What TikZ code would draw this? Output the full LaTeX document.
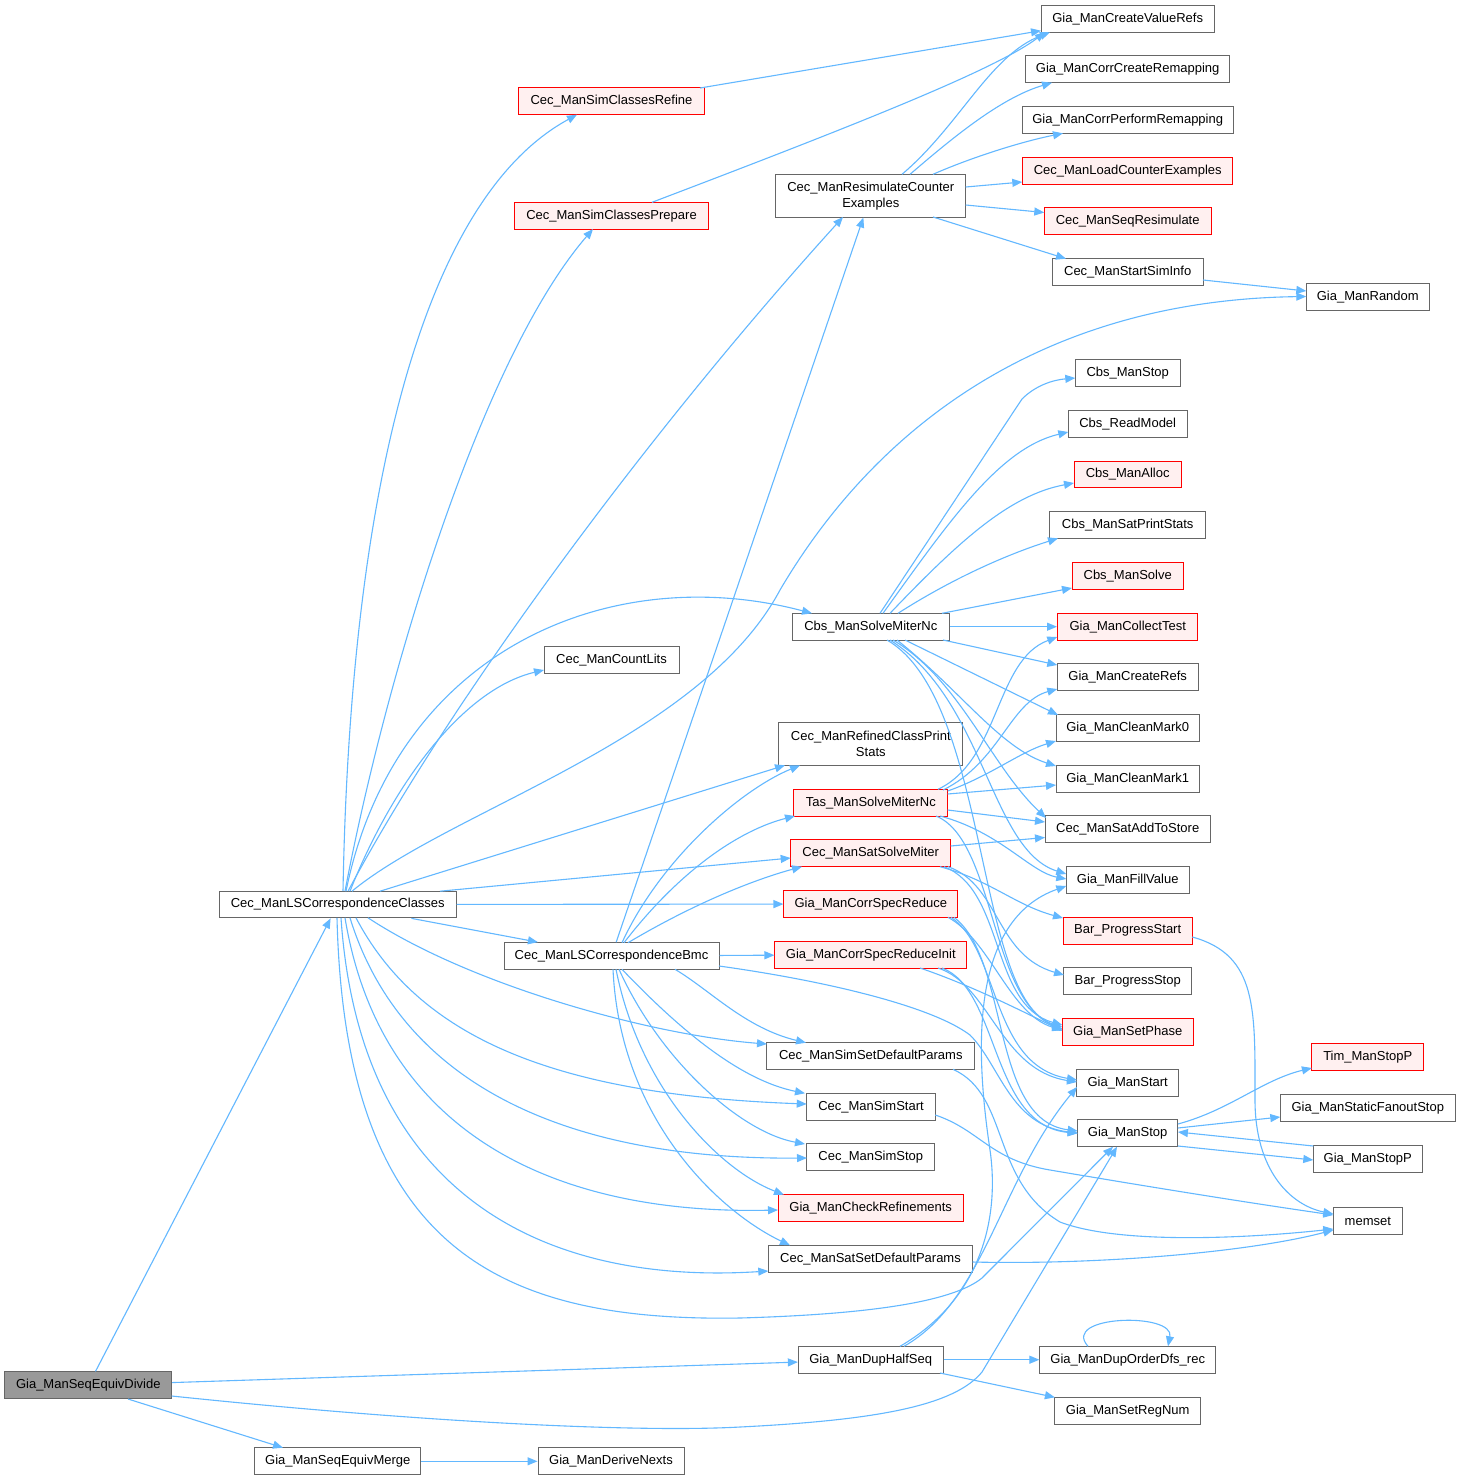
\documentclass[tikz,border=0pt]{standalone}
\usepackage{fontspec}
\setmainfont{Liberation Sans}
\usetikzlibrary{arrows.meta}
\definecolor{eb}{HTML}{63B8FF}
\definecolor{bgray}{HTML}{666666}
\definecolor{rborder}{HTML}{FF0000}
\definecolor{rfill}{HTML}{FFF0F0}
\definecolor{rootf}{HTML}{999999}
\begin{document}
\begin{tikzpicture}[x=1pt,y=-1pt,
 nb/.style={draw=bgray, fill=white, line width=1pt, inner sep=0pt, minimum height=26.7pt, font=\fontsize{13}{16}\selectfont, align=center},
 nr/.style={nb, draw=rborder, fill=rfill},
 nroot/.style={nb, fill=rootf},
 ed/.style={draw=eb, line width=1.1pt, -{Triangle[length=10pt,width=8pt]}}]
\fill[white] (0,0) rectangle (1461,1480);
\useasboundingbox (0,0) rectangle (1461,1480);
% column 1
\node[nroot, minimum width=166.7pt] (D) at (88.3,1385.3) {Gia\_ManSeqEquivDivide};
\node[nb, minimum width=165.7pt] (Mrg) at (337.8,1461.3) {Gia\_ManSeqEquivMerge};
\node[nb, minimum width=146pt] (Nexts) at (611,1461.3) {Gia\_ManDeriveNexts};
\node[nb, minimum width=236.4pt] (C) at (337.8,904.5) {Cec\_ManLSCorrespondenceClasses};
\node[nb, minimum width=215pt] (B) at (611.5,956) {Cec\_ManLSCorrespondenceBmc};
\node[nr, minimum width=186.4pt] (Refine) at (611.5,101.3) {Cec\_ManSimClassesRefine};
\node[nr, minimum width=193.6pt] (Prep) at (611.5,215.7) {Cec\_ManSimClassesPrepare};
\node[nb, minimum width=135pt] (Count) at (611.5,660) {Cec\_ManCountLits};
% column 2
\node[nb, minimum width=189.7pt, minimum height=42.7pt] (R) at (870.8,195.7) {Cec\_ManResimulateCounter\\Examples};
\node[nb, minimum width=157pt] (S) at (870.8,626.7) {Cbs\_ManSolveMiterNc};
\node[nb, minimum width=183.7pt, minimum height=42.7pt] (Stats) at (870.8,744) {Cec\_ManRefinedClassPrint\\Stats};
\node[nr, minimum width=153.7pt] (T) at (870.8,802.7) {Tas\_ManSolveMiterNc};
\node[nr, minimum width=160pt] (M) at (870.7,853.3) {Cec\_ManSatSolveMiter};
\node[nr, minimum width=173.7pt] (CSR) at (870.8,904) {Gia\_ManCorrSpecReduce};
\node[nr, minimum width=191.7pt] (CSRI) at (870.8,954.7) {Gia\_ManCorrSpecReduceInit};
\node[nb, minimum width=207.7pt] (SimSDP) at (870.8,1056) {Cec\_ManSimSetDefaultParams};
\node[nb, minimum width=128.6pt] (SimStart) at (871,1106.7) {Cec\_ManSimStart};
\node[nb, minimum width=127.7pt] (SimStop) at (870.8,1157.3) {Cec\_ManSimStop};
\node[nr, minimum width=185.3pt] (Check) at (870.7,1208) {Gia\_ManCheckRefinements};
\node[nb, minimum width=204.4pt] (SatSDP) at (870.5,1258.7) {Cec\_ManSatSetDefaultParams};
\node[nb, minimum width=144.7pt] (H) at (870.7,1359.7) {Gia\_ManDupHalfSeq};
% column 3
\node[nb, minimum width=173.3pt] (CVR) at (1127.7,18.7) {Gia\_ManCreateValueRefs};
\node[nb, minimum width=203.6pt] (CCR) at (1127.7,69.2) {Gia\_ManCorrCreateRemapping};
\node[nb, minimum width=211pt] (CPR) at (1127.7,120) {Gia\_ManCorrPerformRemapping};
\node[nr, minimum width=210.4pt] (LCE) at (1127.7,170.7) {Cec\_ManLoadCounterExamples};
\node[nr, minimum width=167pt] (SeqR) at (1127.7,221.3) {Cec\_ManSeqResimulate};
\node[nb, minimum width=150.7pt] (SSI) at (1127.7,271.8) {Cec\_ManStartSimInfo};
\node[nb, minimum width=104.7pt] (CbsStop) at (1127.7,373.3) {Cbs\_ManStop};
\node[nb, minimum width=118.7pt] (CbsRM) at (1127.7,424) {Cbs\_ReadModel};
\node[nr, minimum width=107.3pt] (CbsAlloc) at (1127.7,474.5) {Cbs\_ManAlloc};
\node[nb, minimum width=155.7pt] (CbsSPS) at (1127.7,525) {Cbs\_ManSatPrintStats};
\node[nr, minimum width=111.3pt] (CbsSolve) at (1127.7,576) {Cbs\_ManSolve};
\node[nr, minimum width=140.4pt] (Collect) at (1127.7,626.7) {Gia\_ManCollectTest};
\node[nb, minimum width=140.7pt] (CRefs) at (1127.7,677.3) {Gia\_ManCreateRefs};
\node[nb, minimum width=143.3pt] (CM0) at (1127.7,728) {Gia\_ManCleanMark0};
\node[nb, minimum width=143.3pt] (CM1) at (1127.7,778.7) {Gia\_ManCleanMark1};
\node[nb, minimum width=165.3pt] (Store) at (1127.7,829.3) {Cec\_ManSatAddToStore};
\node[nb, minimum width=122.7pt] (Fill) at (1127.7,880) {Gia\_ManFillValue};
\node[nr, minimum width=129.3pt] (BarS) at (1127.7,930.7) {Bar\_ProgressStart};
\node[nb, minimum width=127.7pt] (BarE) at (1127.7,981.3) {Bar\_ProgressStop};
\node[nr, minimum width=131pt] (Phase) at (1127.7,1032) {Gia\_ManSetPhase};
\node[nb, minimum width=101.7pt] (GStart) at (1127.7,1082.7) {Gia\_ManStart};
\node[nb, minimum width=100.3pt] (GStop) at (1127.7,1133.3) {Gia\_ManStop};
\node[nb, minimum width=175.6pt] (Dfs) at (1127.7,1359.7) {Gia\_ManDupOrderDfs\_rec};
\node[nb, minimum width=145.6pt] (RegNum) at (1127.7,1410.7) {Gia\_ManSetRegNum};
% column 4
\node[nb, minimum width=123pt] (Random) at (1367.8,297.3) {Gia\_ManRandom};
\node[nr, minimum width=111.7pt] (Tim) at (1367.8,1057.3) {Tim\_ManStopP};
\node[nb, minimum width=175pt] (SFS) at (1367.8,1108) {Gia\_ManStaticFanoutStop};
\node[nb, minimum width=109.4pt] (StopP) at (1367.8,1158.7) {Gia\_ManStopP};
\node[nb, minimum width=69pt] (memset) at (1367.8,1221) {memset};

% ---- edges from D
\draw[ed] (D) -- (C);
\draw[ed] (D) -- (H);
\draw[ed] ([shift={(39.7,13.7)}]D.center) -- ([shift={(-54.8,-13.6)}]Mrg.center);
\draw[ed] ([shift={(83.4,10.7)}]D.center) .. controls (450,1425) and (650,1432) .. (740,1427) .. controls (880,1420) and (955,1405) .. (982,1372) -- ([shift={(-10.7,13.4)}]GStop.center);
\draw[ed] (Mrg) -- (Nexts);
% ---- edges from C
\draw[ed] ([shift={(5.2,-13.3)}]C.center) .. controls (350,500) and (420,200) .. ([shift={(-34.5,13.4)}]Refine.center);
\draw[ed] ([shift={(7.2,-13.3)}]C.center) .. controls (385,680) and (480,360) .. ([shift={(-18.5,13.3)}]Prep.center);
\draw[ed] ([shift={(10.2,-13.3)}]C.center) .. controls (450,700) and (650,430) .. ([shift={(-27.8,21.3)}]R.center);
\draw[ed] ([shift={(14.2,-13.3)}]C.center) .. controls (450,810) and (700,740) .. (780,590) .. controls (880,420) and (1050,300) .. ([shift={(-61.5,-0.8)}]Random.center);
\draw[ed] ([shift={(8.2,-13.3)}]C.center) .. controls (395,650) and (610,560) .. ([shift={(-58.8,-13.4)}]S.center);
\draw[ed] ([shift={(12.2,-13.3)}]C.center) .. controls (390,790) and (460,690) .. ([shift={(-67.5,10)}]Count.center);
\draw[ed] ([shift={(42.2,-13.3)}]C.center) -- ([shift={(-85.8,21.3)}]Stats.center);
\draw[ed] ([shift={(102.2,-13.3)}]C.center) -- ([shift={(-80,4.7)}]M.center);
\draw[ed] (C) -- (CSR);
\draw[ed] (C) -- (B);
\draw[ed] ([shift={(30.2,13.3)}]C.center) .. controls (470,985) and (650,1035) .. ([shift={(-103.8,-12)}]SimSDP.center);
\draw[ed] ([shift={(18.2,13.3)}]C.center) .. controls (420,1040) and (560,1095) .. ([shift={(-64.3,-2.7)}]SimStart.center);
\draw[ed] ([shift={(12.2,13.3)}]C.center) .. controls (400,1080) and (560,1160) .. ([shift={(-63.8,0.7)}]SimStop.center);
\draw[ed] ([shift={(7.2,13.3)}]C.center) .. controls (380,1130) and (550,1215) .. ([shift={(-92.7,2)}]Check.center);
\draw[ed] ([shift={(3.2,13.3)}]C.center) .. controls (360,1200) and (550,1285) .. ([shift={(-102.2,12.3)}]SatSDP.center);
\draw[ed] ([shift={(-0.8,13.3)}]C.center) .. controls (345,1250) and (500,1322) .. (740,1318) .. controls (880,1314) and (955,1300) .. (982,1278) -- ([shift={(-14.7,13.4)}]GStop.center);
% ---- edges from B
\draw[ed] (B) -- (R);
\draw[ed] ([shift={(10.5,-13.3)}]B.center) .. controls (660,860) and (740,790) .. ([shift={(-70.8,21.3)}]Stats.center);
\draw[ed] ([shift={(12.5,-13.3)}]B.center) .. controls (680,870) and (740,830) .. ([shift={(-75.8,13.3)}]T.center);
\draw[ed] ([shift={(16.5,-13.3)}]B.center) .. controls (700,900) and (760,878) .. ([shift={(-68.7,13.4)}]M.center);
\draw[ed] (B) -- (CSRI);
\draw[ed] ([shift={(63.5,13.3)}]B.center) .. controls (710,990) and (745,1028) .. ([shift={(-64.8,-13.3)}]SimSDP.center);
\draw[ed] ([shift={(10.5,13.3)}]B.center) .. controls (680,1030) and (740,1080) .. ([shift={(-66,-13.4)}]SimStart.center);
\draw[ed] ([shift={(7.5,13.3)}]B.center) .. controls (660,1060) and (740,1132) .. ([shift={(-65.8,-13.3)}]SimStop.center);
\draw[ed] ([shift={(4.5,13.3)}]B.center) .. controls (640,1090) and (720,1170) .. ([shift={(-86.7,-13.3)}]Check.center);
\draw[ed] ([shift={(1.5,13.3)}]B.center) .. controls (620,1120) and (720,1212) .. ([shift={(-80.5,-13.4)}]SatSDP.center);
\draw[ed] ([shift={(107.5,10)}]B.center) .. controls (820,980) and (930,1005) .. (970,1035) .. controls (1000,1065) and (1010,1125) .. ([shift={(-50,-0.3)}]GStop.center);
% ---- edges from R
\draw[ed] ([shift={(31.2,-21.4)}]R.center) .. controls (960,125) and (990,55) .. ([shift={(-77.7,13.6)}]CVR.center);
\draw[ed] ([shift={(39.2,-21.4)}]R.center) .. controls (950,140) and (1000,98) .. ([shift={(-75.7,13.5)}]CCR.center);
\draw[ed] ([shift={(62.2,-21.4)}]R.center) .. controls (970,158) and (1020,142) .. ([shift={(-64.7,13.3)}]CPR.center);
\draw[ed] ([shift={(94.9,-8.7)}]R.center) -- ([shift={(-105.4,11.3)}]LCE.center);
\draw[ed] ([shift={(94.9,9.3)}]R.center) -- ([shift={(-83.4,-8.8)}]SeqR.center);
\draw[ed] ([shift={(62.2,21.3)}]R.center) -- ([shift={(-61.7,-13.1)}]SSI.center);
\draw[ed] ([shift={(75.3,8.2)}]SSI.center) -- ([shift={(-61.5,-6.3)}]Random.center);
\draw[ed] ([shift={(88.5,-13.3)}]Refine.center) -- ([shift={(-86.7,12)}]CVR.center);
\draw[ed] ([shift={(40.5,-13.4)}]Prep.center) .. controls (850,127) and (995,70) .. ([shift={(-82.7,13.6)}]CVR.center);
% ---- edges from S
\draw[ed] ([shift={(9.2,-13.4)}]S.center) -- (1022,399) .. controls (1035,386) and (1052,380) .. ([shift={(-52.4,4.7)}]CbsStop.center);
\draw[ed] ([shift={(12.2,-13.4)}]S.center) .. controls (950,520) and (1000,448) .. ([shift={(-59.4,8)}]CbsRM.center);
\draw[ed] ([shift={(19.2,-13.4)}]S.center) .. controls (960,540) and (1010,495) .. ([shift={(-53.7,8.5)}]CbsAlloc.center);
\draw[ed] ([shift={(27.2,-13.4)}]S.center) .. controls (950,580) and (1005,555) .. ([shift={(-69.7,13.3)}]CbsSPS.center);
\draw[ed] ([shift={(71.2,-13.4)}]S.center) -- ([shift={(-55.7,12)}]CbsSolve.center);
\draw[ed] (S) -- (Collect);
\draw[ed] ([shift={(72.2,13.3)}]S.center) -- ([shift={(-70.4,-12.3)}]CRefs.center);
\draw[ed] ([shift={(34.2,13.3)}]S.center) -- ([shift={(-69.7,-13)}]CM0.center);
\draw[ed] ([shift={(26.2,13.3)}]S.center) .. controls (960,690) and (1000,748) .. ([shift={(-71.7,-12.7)}]CM1.center);
\draw[ed] ([shift={(22.2,13.3)}]S.center) .. controls (960,680) and (990,765) .. ([shift={(-81.7,-11.3)}]Store.center);
\draw[ed] ([shift={(19.2,13.3)}]S.center) .. controls (985,700) and (990,850) .. ([shift={(-61.4,-6)}]Fill.center);
\draw[ed] ([shift={(16.2,13.3)}]S.center) .. controls (990,700) and (975,1000) .. ([shift={(-65.4,-5)}]Phase.center);
% ---- edges from T
\draw[ed] ([shift={(67.2,-13.4)}]T.center) .. controls (1000,760) and (995,660) .. ([shift={(-70.4,10.3)}]Collect.center);
\draw[ed] ([shift={(72.2,-12.7)}]T.center) .. controls (1000,762) and (1010,702) .. ([shift={(-70.4,11.7)}]CRefs.center);
\draw[ed] ([shift={(76.9,-11.7)}]T.center) .. controls (990,776) and (1020,752) .. ([shift={(-71.7,13)}]CM0.center);
\draw[ed] ([shift={(76.9,-8.7)}]T.center) -- ([shift={(-71.7,6.3)}]CM1.center);
\draw[ed] ([shift={(76.9,7.3)}]T.center) -- ([shift={(-82.7,-7.3)}]Store.center);
\draw[ed] ([shift={(69.2,13.3)}]T.center) .. controls (1000,832) and (1030,872) .. ([shift={(-61.4,-1)}]Fill.center);
\draw[ed] ([shift={(65.2,13.3)}]T.center) .. controls (995,840) and (990,1000) .. ([shift={(-65.4,-3)}]Phase.center);
% ---- edges from M
\draw[ed] ([shift={(80,-7.3)}]M.center) -- ([shift={(-82.7,8.2)}]Store.center);
\draw[ed] ([shift={(69.3,13.4)}]M.center) .. controls (990,880) and (1015,905) .. ([shift={(-64.7,-12.7)}]BarS.center);
\draw[ed] ([shift={(77.3,13.4)}]M.center) .. controls (1000,885) and (995,955) .. ([shift={(-63.7,-6.3)}]BarE.center);
\draw[ed] ([shift={(73.3,13.4)}]M.center) .. controls (1005,890) and (990,1005) .. ([shift={(-65.4,-7)}]Phase.center);
% ---- edges from CSR, CSRI
\draw[ed] ([shift={(77.2,13.3)}]CSR.center) .. controls (990,940) and (1010,1015) .. ([shift={(-65.4,-2)}]Phase.center);
\draw[ed] ([shift={(80.2,13.3)}]CSR.center) .. controls (1000,950) and (990,1065) .. ([shift={(-50.7,-2.7)}]GStart.center);
\draw[ed] ([shift={(83.2,13.3)}]CSR.center) .. controls (1010,960) and (990,1120) .. ([shift={(-50,-2.3)}]GStop.center);
\draw[ed] ([shift={(49.2,13.3)}]CSRI.center) .. controls (970,985) and (1020,1010) .. ([shift={(-65.4,-1)}]Phase.center);
\draw[ed] ([shift={(67.2,13.3)}]CSRI.center) .. controls (990,985) and (1000,1070) .. ([shift={(-50.7,-0.7)}]GStart.center);
\draw[ed] ([shift={(71.2,13.3)}]CSRI.center) .. controls (1000,990) and (990,1125) .. ([shift={(-50,0)}]GStop.center);
% ---- edges from H
\draw[ed] ([shift={(29.3,-13.4)}]H.center) .. controls (980,1300) and (1000,1220) .. (990,1150) .. controls (975,1050) and (970,920) .. ([shift={(-61.4,6)}]Fill.center);
\draw[ed] ([shift={(33.3,-13.4)}]H.center) .. controls (985,1300) and (1000,1180) .. ([shift={(-50.7,4.3)}]GStart.center);
\draw[ed] (H) -- (Dfs);
\draw[ed] ([shift={(69.3,13.3)}]H.center) -- ([shift={(-72.8,-13.4)}]RegNum.center);
\draw[ed] ([shift={(-39.7,-13.4)}]Dfs.center) .. controls (1060,1315) and (1175,1312) .. ([shift={(40.3,-13.4)}]Dfs.center);
% ---- edges from GStop
\draw[ed] ([shift={(50.2,-9.3)}]GStop.center) .. controls (1230,1110) and (1262,1080) .. ([shift={(-55.9,10.7)}]Tim.center);
\draw[ed] ([shift={(50.2,-5.3)}]GStop.center) -- ([shift={(-87.5,9)}]SFS.center);
\draw[ed] ([shift={(-54.5,-12.7)}]StopP.center) -- ([shift={(50.2,-1.3)}]GStop.center);
\draw[ed] ([shift={(50.2,12.7)}]GStop.center) -- ([shift={(-54.5,1.3)}]StopP.center);
% ---- memset
\draw[ed] ([shift={(64.6,6.3)}]BarS.center) .. controls (1258,955) and (1255,1010) .. (1255,1100) .. controls (1255,1170) and (1290,1205) .. ([shift={(-34.5,-7)}]memset.center);
\draw[ed] ([shift={(82.2,13.3)}]SimSDP.center) .. controls (1010,1095) and (990,1180) .. (1060,1222) .. controls (1120,1245) and (1250,1238) .. ([shift={(-34.5,8)}]memset.center);
\draw[ed] ([shift={(64.3,8.3)}]SimStart.center) .. controls (980,1130) and (990,1160) .. (1050,1170) .. controls (1150,1187) and (1250,1203) .. ([shift={(-34.5,-6)}]memset.center);
\draw[ed] ([shift={(102.2,3.3)}]SatSDP.center) .. controls (1100,1265) and (1250,1252) .. ([shift={(-34.5,9)}]memset.center);
\end{tikzpicture}
\end{document}
